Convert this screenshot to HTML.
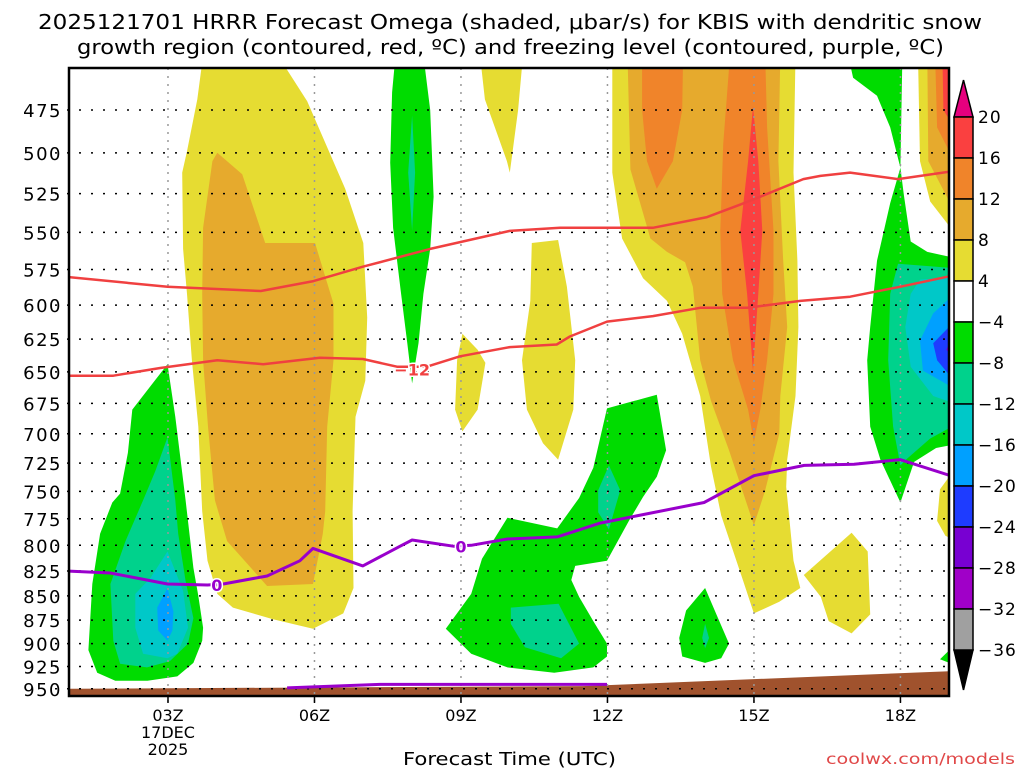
<!DOCTYPE html>
<html><head><meta charset="utf-8"><title>HRRR Omega KBIS</title>
<style>html,body{margin:0;padding:0;background:#fff;}svg{display:block;}text{font-family:"DejaVu Sans","Liberation Sans",sans-serif;}</style>
</head><body>
<svg id="chart" xmlns="http://www.w3.org/2000/svg" width="1024" height="768" viewBox="0 0 1024 768">
<defs><clipPath id="plotclip"><rect x="69" y="68" width="880" height="628"/></clipPath></defs>
<text x="38" y="29" font-size="20" textLength="944" lengthAdjust="spacingAndGlyphs">2025121701 HRRR Forecast Omega (shaded, μbar/s) for KBIS with dendritic snow</text>
<text x="77" y="54" font-size="20" textLength="867" lengthAdjust="spacingAndGlyphs">growth region (contoured, red, ºC) and freezing level (contoured, purple, ºC)</text>
<g id="shading" clip-path="url(#plotclip)"></g>
<g id="ground" clip-path="url(#plotclip)"></g>
<g id="grid"></g>
<g id="contours" clip-path="url(#plotclip)"></g>
<rect x="69" y="68" width="880" height="628" fill="none" stroke="#000" stroke-width="2.5"/>
<g id="axes"></g>
<g id="colorbar"></g>
<text x="403" y="765" font-size="18" textLength="213" lengthAdjust="spacingAndGlyphs">Forecast Time (UTC)</text>
<text x="826" y="764" font-size="15" fill="#e04848" textLength="189" lengthAdjust="spacingAndGlyphs">coolwx.com/models</text>
</svg>
<script>
const levelColors = ["#e6dc32","#e6aa2d","#f0842a","#fa4040","#00dc00","#00d28c","#00c8c8","#00a0ff","#1e3cff","#7800d2"];
const cbLabels = ["20","16","12","8","4","−4","−8","−12","−16","−20","−24","−28","−32","−36"];
const cbColors = ["#fa4040","#f0842a","#e6aa2d","#e6dc32","#ffffff","#00dc00","#00d28c","#00c8c8","#00a0ff","#1e3cff","#7800d2","#a000c8","#a0a0a0"];
const pressureTicks = [475,500,525,550,575,600,625,650,675,700,725,750,775,800,825,850,875,900,925,950];
const hourTicks = [3,6,9,12,15,18];
const hourTickLabels = ["03Z","06Z","09Z","12Z","15Z","18Z"];
const shapeLevels = [0,1,4,5,6,7,4,5,0,0,0,0,1,2,2,3,4,5,6,7,8,9,0,1,2,3,0,4,5,5,4,5,0,4];
const shapeHours = [
[3.72,5.25,5.85,6.63,7.0,7.08,7.04,6.84,6.78,6.80,6.59,5.97,5.15,4.33,4.01,3.81,3.70,3.62,3.49,3.39,3.31,3.29,3.39,3.60],
[4.01,4.52,4.99,6.01,6.39,6.39,6.26,6.22,6.17,5.97,5.03,4.21,3.96,3.82,3.72,3.70,3.72,3.91],
[2.99,3.15,3.36,3.52,3.62,3.72,3.70,3.52,3.19,2.58,1.92,1.55,1.37,1.45,1.61,1.86,2.02,2.18,2.27],
[2.99,3.15,3.21,3.36,3.52,3.41,3.04,2.57,2.02,1.88,1.82,2.13,2.49,2.74],
[2.99,3.31,3.41,3.19,2.99,2.49,2.33,2.33,2.64],
[2.99,3.11,3.09,2.99,2.80,2.78],
[7.66,8.23,8.37,8.44,8.37,8.23,8.13,8.00,7.90,7.76,7.61,7.55,7.59],
[8.0,8.06,8.0,7.92],
[9.03,9.34,9.50,9.34,9.03,8.88,8.92],
[9.39,10.27,10.17,10.0,9.94,9.49],
[10.45,10.99,11.17,11.34,11.30,10.99,10.68,10.35,10.25,10.42],
[12.10,12.10,12.30,12.73,13.22,13.53,13.90,14.12,14.33,14.78,15.0,15.52,15.95,15.81,15.66,15.68,15.85,15.91,15.89,15.81,15.85],
[12.41,12.47,12.88,13.22,13.59,13.75,13.90,14.12,14.49,15.0,15.23,15.52,15.54,15.68,15.60,15.50,15.54],
[12.71,13.55,13.53,13.34,13.01,12.81,12.71],
[14.51,15.23,15.27,15.40,15.40,15.27,15.13,15.0,14.88,14.57,14.35,14.31,14.37],
[14.98,15.09,15.17,15.09,14.98,14.86,14.72,14.88],
[16.93,18.04,18.0,18.07,18.21,18.55,19.1,19.1,18.73,18.28,18.0,17.59,17.38,17.32,17.38,17.52,17.79,18.0,17.79,17.52,17.03],
[17.95,19.1,19.1,18.61,18.14,18.0,17.85,17.75,17.79],
[18.40,19.1,19.1,18.67,18.21,18.10,18.21],
[19.1,18.67,18.40,18.46,19.1],
[19.1,18.67,18.75,19.1],
[19.1,18.94,19.1],
[18.36,19.1,19.1,18.61,18.40],
[18.55,19.1,19.1,18.57],
[18.71,19.1,19.1,18.75],
[18.86,19.1,19.1,18.88],
[19.1,18.81,18.75,18.92,19.1],
[11.99,13.01,13.20,13.01,12.73,12.44,11.99,11.34,11.26,11.42,11.71,11.99,11.99,11.71,10.91,9.95,9.21,8.69,9.21,9.43,9.95,10.97,11.42,11.71],
[10.02,11.0,11.42,11.05,10.31,10.02],
[12.03,12.26,12.03,11.81,11.81],
[14.0,14.23,14.49,14.33,14.0,13.53,13.47,13.61],
[14.0,14.08,14.0,13.94],
[16.02,17.0,17.33,17.38,17.0,16.53,16.37],
[19.1,18.81,19.1]
];
const shapePress = [
[445,445,470,522,557,609,657,686,768,842,868,884,874,862,848,815,768,694,641,592,561,512,499,469],
[500,513,557,557,599,641,694,768,789,838,840,796,758,694,641,592,547,505],
[644,686,758,822,850,883,897,921,936,941,941,932,907,838,789,760,752,716,680],
[703,758,789,835,873,900,919,926,922,897,838,796,758,732],
[806,845,883,911,916,911,883,848,832],
[842,866,886,897,886,862],
[445,445,475,527,561,592,628,659,628,588,547,506,465],
[478,512,549,512],
[621,633,643,680,698,680,641],
[445,445,475,512,505,469],
[557,555,587,641,680,722,708,680,641,597],
[445,512,554,581,597,621,669,728,772,835,868,856,842,815,746,722,669,616,569,512,445],
[445,510,554,563,570,587,641,673,714,781,749,700,669,616,569,505,445],
[445,445,475,505,522,505,475],
[445,445,485,549,592,641,680,707,680,641,592,549,495],
[473,505,549,592,649,592,549,505],
[445,445,509,526,556,563,567,709,712,724,760,722,694,641,616,569,531,509,485,467,457],
[571,574,693,704,721,727,694,641,592],
[582,580,675,669,646,616,592],
[592,606,626,649,663],
[612,628,641,657],
[620,633,639],
[445,445,550,530,505],
[445,445,536,505],
[445,445,505,485],
[445,445,485,475],
[731,748,777,791,795],
[679,668,714,737,755,777,815,820,834,851,876,900,914,926,932,926,911,884,848,813,774,784,756,729],
[862,858,900,916,904,879],
[727,749,785,769,749],
[842,869,900,916,921,914,894,865],
[879,894,905,894],
[829,788,806,869,889,876,851],
[902,917,923]
];
const groundHours = [0.9,11.5,19.1];
const groundPress = [950,947,930];
const dgzUpperHours = [0.9,2.99,4.90,5.98,7.0,8.37,10.0,11.03,12.93,14.04,14.72,15.13,16.01,16.36,16.97,17.95,19.1];
const dgzUpperPress = [580,587,590,583,573,561,549,547,547,540,532,527,516,514,512,516,511];
const dgzLowerHours = [0.9,1.88,2.84,4.01,4.95,6.11,6.99,7.69,8.30,8.98,10.0,10.96,11.23,11.99,12.93,13.90,14.86,15.95,16.97,17.99,19.1];
const dgzLowerPress = [653,653,647,641,644,639,640,646,646,638,631,629,623,612,608,602,602,597,594,587,579];
const frzHours = [0.9,1.82,2.99,3.81,4.13,5.03,5.70,5.97,6.99,7.75,8.0,8.86,9.21,9.95,10.97,11.85,13.98,15.0,16.03,17.05,17.99,19.1];
const frzPress = [825,827,838,839,838,830,815,803,820,801,795,801,800,794,792,779,760,736,727,726,722,737];
const frzSfcHours = [5.44,7.34,9.0,11.99];
const frzSfcPress = [949,945,945,945];
const contourLabels = [{text:"−12",hour:8.0,press:648,color:"#f04040"},{text:"0",hour:4.0,press:839,color:"#9900cc"},{text:"0",hour:9.0,press:801,color:"#9900cc"}];

const NS="http://www.w3.org/2000/svg";
function xs(h){return 21.5+48.83*h;}
function ys(p){return 110+835*Math.log(p/475);}
function mk(tag,attrs,parent){const e=document.createElementNS(NS,tag);for(const k in attrs)e.setAttribute(k,attrs[k]);parent.appendChild(e);return e;}

const shading=document.getElementById('shading');
shapeHours.forEach((hs,i)=>{
  const pts=hs.map((h,j)=>xs(h).toFixed(1)+","+ys(shapePress[i][j]).toFixed(1)).join(" ");
  const el=mk('polygon',{points:pts,fill:levelColors[shapeLevels[i]]},shading);
  
  
});
const ground=document.getElementById('ground');
{
  let pts=groundHours.map((h,j)=>xs(h).toFixed(1)+","+ys(groundPress[j]).toFixed(1));
  pts.push(xs(19.1)+",700");pts.push(xs(0.9)+",700");
  const g=mk('polygon',{points:pts.join(" "),fill:"#a0522d"},ground);
  
  
}
const grid=document.getElementById('grid');
pressureTicks.forEach(p=>{
  const l=mk('line',{x1:55,x2:949,y1:ys(p),y2:ys(p),stroke:"#000","stroke-width":1.5,"stroke-dasharray":"2 10"},grid);
  
  
});
hourTicks.forEach(h=>{
  const l=mk('line',{x1:xs(h),x2:xs(h),y1:68,y2:705,stroke:"#999","stroke-width":1.5,"stroke-dasharray":"2 6"},grid);
  
  
});
const contours=document.getElementById('contours');
function drawLine(hs,ps,color,w,name){
  const d=hs.map((h,j)=>(j?"L":"M")+xs(h).toFixed(1)+","+ys(ps[j]).toFixed(1)).join(" ");
  const el=mk('path',{d:d,fill:"none",stroke:color,"stroke-width":w,"stroke-linejoin":"round"},contours);
  
  
}
drawLine(dgzUpperHours,dgzUpperPress,"#f04040",2.5,'dgz-contour-minus18');
drawLine(dgzLowerHours,dgzLowerPress,"#f04040",2.5,'dgz-contour-minus12');
drawLine(frzHours,frzPress,"#9900cc",3,'freezing-level-contour');
drawLine(frzSfcHours,frzSfcPress,"#9900cc",3,'freezing-level-surface-contour');
contourLabels.forEach(c=>{
  const t=mk('text',{x:xs(c.hour),y:ys(c.press)+6,"font-size":16,"font-weight":"bold",fill:c.color,"text-anchor":"middle",stroke:"#fff","stroke-width":3,"paint-order":"stroke"},contours);
  t.textContent=c.text;
  
  
});
const axes=document.getElementById('axes');
pressureTicks.forEach(p=>{
  const t=mk('text',{x:62,y:ys(p)+7,"font-size":18,"text-anchor":"end","letter-spacing":"1.5"},axes);
  t.textContent=String(p);
  
  
});
hourTicks.forEach((h,i)=>{
  const tk=mk('line',{x1:xs(h),x2:xs(h),y1:696,y2:703,stroke:"#000","stroke-width":1.5},axes);
  
  
  const t=mk('text',{x:xs(h),y:721,"font-size":16,"text-anchor":"middle"},axes);
  t.textContent=hourTickLabels[i];
  
  
});
{
  const t1=mk('text',{x:xs(3),y:738,"font-size":16,"text-anchor":"middle"},axes);
  t1.textContent="17DEC";
  
  
  const t2=mk('text',{x:xs(3),y:755,"font-size":16,"text-anchor":"middle"},axes);
  t2.textContent="2025";
  
  
}
const cb=document.getElementById('colorbar');
const cbX=954,cbW=19,cbTop=117,cbStep=41;
{
  const up=mk('polygon',{points:`${cbX},${cbTop} ${cbX+cbW},${cbTop} ${cbX+cbW/2},80`,fill:"#e6007e",stroke:"#000","stroke-width":1.5},cb);
  
  
  const n=cbColors.length;
  const dn=mk('polygon',{points:`${cbX},${cbTop+n*cbStep} ${cbX+cbW},${cbTop+n*cbStep} ${cbX+cbW/2},690`,fill:"#000",stroke:"#000","stroke-width":1.5},cb);
  
  
}
cbColors.forEach((c,i)=>{
  const r=mk('rect',{x:cbX,y:cbTop+i*cbStep,width:cbW,height:cbStep,fill:c,stroke:"#000","stroke-width":1.5},cb);
  
  
});
cbLabels.forEach((s,i)=>{
  const t=mk('text',{x:978,y:cbTop+i*cbStep+6,"font-size":17,"letter-spacing":"1"},cb);
  t.textContent=s;
  
  
});
</script>
</body></html>
